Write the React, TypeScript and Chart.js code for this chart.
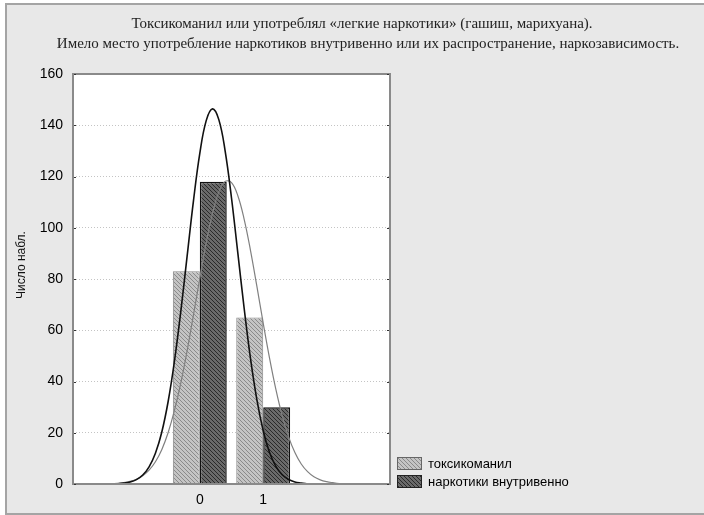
import React, { useEffect, useRef } from "react";
import { Chart, registerables } from "chart.js";

Chart.register(...registerables);

// ---- data ----
const categories = [0, 1];
const toksValues = [83, 65];
const narcValues = [118, 30];

const toksCurveX = [-1.4, -1.3, -1.2, -1.1, -1.0, -0.9, -0.8, -0.7, -0.6, -0.5, -0.4, -0.3, -0.2, -0.1, 0.0, 0.1, 0.2, 0.3, 0.4, 0.5, 0.6, 0.7, 0.8, 0.9, 1.0, 1.1, 1.2, 1.3, 1.4, 1.5, 1.6, 1.7, 1.8, 1.9, 2.0, 2.1, 2.2, 2.3];
const toksCurveY = [0.1, 0.3, 0.5, 1.0, 1.8, 3.2, 5.4, 8.7, 13.4, 20.0, 28.7, 39.4, 52.0, 66.0, 80.3, 94.0, 105.6, 114.0, 118.1, 117.6, 112.5, 103.3, 91.1, 77.2, 62.8, 49.1, 36.9, 26.6, 18.4, 12.3, 7.8, 4.8, 2.8, 1.6, 0.9, 0.5, 0.2, 0.1];

const narcCurveX = [-1.3, -1.2, -1.1, -1.0, -0.9, -0.8, -0.7, -0.6, -0.5, -0.4, -0.3, -0.2, -0.1, 0.0, 0.1, 0.2, 0.3, 0.4, 0.5, 0.6, 0.7, 0.8, 0.9, 1.0, 1.1, 1.2, 1.3, 1.4, 1.5, 1.6, 1.7];
const narcCurveY = [0.1, 0.4, 0.8, 1.7, 3.5, 6.7, 12.0, 20.2, 32.1, 47.9, 67.3, 88.9, 110.5, 129.0, 141.7, 146.4, 142.2, 129.9, 111.6, 90.1, 68.5, 48.9, 32.9, 20.8, 12.3, 6.9, 3.6, 1.8, 0.8, 0.4, 0.1];

const xTickValues = [0, 1];
const yTickValues = [0, 20, 40, 60, 80, 100, 120, 140, 160];

const titleLines = [
  "Токсикоманил или употреблял «легкие наркотики» (гашиш, марихуана).",
  "Имело место употребление наркотиков внутривенно или их распространение, наркозависимость.",
];
const yAxisTitle = "Число набл.";
const seriesLabels = ["токсикоманил", "наркотики внутривенно"];

function makePattern(base: string, line: string): CanvasPattern | string {
  const c = document.createElement("canvas");
  c.width = 4;
  c.height = 4;
  const g = c.getContext("2d");
  if (!g) return base;
  g.fillStyle = base;
  g.fillRect(0, 0, 4, 4);
  g.fillStyle = line;
  for (let i = 0; i < 4; i++) g.fillRect(i, i, 1, 1);
  const p = g.createPattern(c, "repeat");
  return p || base;
}

export default function App() {
  const ref = useRef<HTMLCanvasElement | null>(null);

  useEffect(() => {
    const canvas = ref.current;
    if (!canvas) return;
    const toksFill = makePattern("#c4c4c4", "#8a8a8a");
    const narcFill = makePattern("#6a6a6a", "#2a2a2a");

    const decor = {
      id: "decor",
      beforeDraw(chart: any) {
        const { ctx, chartArea: a } = chart;
        ctx.save();
        ctx.fillStyle = "#ffffff";
        ctx.fillRect(0, 0, chart.width, chart.height);
        ctx.fillStyle = "#e8e8e8";
        ctx.fillRect(7, 5, chart.width, 508);
        ctx.strokeStyle = "#a4a4a4";
        ctx.lineWidth = 2;
        ctx.strokeRect(6, 4, chart.width + 20, 510);
        ctx.fillStyle = "#ffffff";
        ctx.fillRect(a.left, a.top, a.right - a.left, a.bottom - a.top);
        ctx.restore();
      },
      afterDraw(chart: any) {
        const { ctx, chartArea: a } = chart;
        const ys = chart.scales.y;
        ctx.save();
        // plot frame
        ctx.strokeStyle = "#8a8a8a";
        ctx.lineWidth = 2;
        ctx.strokeRect(a.left, a.top, a.right - a.left, a.bottom - a.top);
        // small inner tick marks
        ctx.strokeStyle = "#333";
        ctx.lineWidth = 1;
        yTickValues.forEach((v) => {
          const y = Math.round(ys.getPixelForValue(v)) + 0.5;
          ctx.beginPath();
          ctx.moveTo(a.left + 1, y);
          ctx.lineTo(a.left + 3, y);
          ctx.moveTo(a.right - 3, y);
          ctx.lineTo(a.right - 1, y);
          ctx.stroke();
        });
        // chart title
        ctx.fillStyle = "#222";
        ctx.font = '15px "Liberation Serif"';
        ctx.textAlign = "center";
        ctx.textBaseline = "middle";
        ctx.fillText(titleLines[0], 362, 24);
        ctx.fillText(titleLines[1], 368, 44);
        // y axis title
        ctx.save();
        ctx.translate(22, 265);
        ctx.rotate(-Math.PI / 2);
        ctx.font = '12px "Liberation Sans"';
        ctx.fillStyle = "#111";
        ctx.fillText(yAxisTitle, 0, 0);
        ctx.restore();
        // legend
        const fills = [toksFill, narcFill];
        const borders = ["#666", "#222"];
        seriesLabels.forEach((lab, i) => {
          const x0 = a.right + 7;
          const y0 = a.bottom - 27 + i * 18;
          ctx.fillStyle = fills[i] as any;
          ctx.fillRect(x0, y0, 25, 13);
          ctx.strokeStyle = borders[i];
          ctx.lineWidth = 1;
          ctx.strokeRect(x0 + 0.5, y0 + 0.5, 24, 12);
          ctx.fillStyle = "#000";
          ctx.font = '13px "Liberation Sans"';
          ctx.textAlign = "left";
          ctx.textBaseline = "middle";
          ctx.fillText(lab, x0 + 31, y0 + 7);
        });
        ctx.restore();
      },
    };

    const chart = new Chart(canvas, {
      type: "bar",
      data: {
        datasets: [
          {
            type: "bar",
            label: seriesLabels[0],
            data: categories.map((c, i) => ({ x: c, y: toksValues[i] })),
            backgroundColor: toksFill as any,
            borderColor: "#8a8a8a",
            borderWidth: 1,
            categoryPercentage: 0.85,
            barPercentage: 1.0,
            order: 2,
          },
          {
            type: "bar",
            label: seriesLabels[1],
            data: categories.map((c, i) => ({ x: c, y: narcValues[i] })),
            backgroundColor: narcFill as any,
            borderColor: "#111111",
            borderWidth: 1.5,
            categoryPercentage: 0.85,
            barPercentage: 1.0,
            order: 2,
          },
          {
            type: "line",
            label: seriesLabels[0] + " (норм.)",
            data: toksCurveX.map((x, i) => ({ x, y: toksCurveY[i] })),
            borderColor: "#808080",
            borderWidth: 1.2,
            pointRadius: 0,
            tension: 0.4,
            fill: false,
            order: 1,
          },
          {
            type: "line",
            label: seriesLabels[1] + " (норм.)",
            data: narcCurveX.map((x, i) => ({ x, y: narcCurveY[i] })),
            borderColor: "#111111",
            borderWidth: 1.6,
            pointRadius: 0,
            tension: 0.4,
            fill: false,
            order: 0,
          },
        ] as any,
      },
      options: {
        animation: false,
        responsive: false,
        devicePixelRatio: 1,
        layout: { padding: { top: 74, right: 314, bottom: 0, left: 0 } },
        plugins: {
          legend: { display: false },
          title: { display: false },
          tooltip: { enabled: false },
        },
        scales: {
          x: {
            type: "linear",
            min: -2,
            max: 3,
            offset: false,
            grid: { display: false, drawTicks: false },
            border: { display: false },
            afterBuildTicks: (s: any) => {
              s.ticks = xTickValues.map((v) => ({ value: v }));
            },
            afterFit: (s: any) => {
              s.height = 31;
            },
            ticks: {
              padding: 8,
              color: "#000",
              font: { family: "Liberation Sans", size: 14 },
              maxRotation: 0,
              autoSkip: false,
              callback: (v: any) => String(v),
            },
          },
          y: {
            type: "linear",
            min: 0,
            max: 160,
            afterBuildTicks: (s: any) => {
              s.ticks = yTickValues.map((v) => ({ value: v }));
            },
            afterFit: (s: any) => {
              s.width = 73;
            },
            grid: { color: "#c4c4c4", lineWidth: 1, drawTicks: false },
            border: { display: false, dash: [1, 2] },
            ticks: {
              padding: 10,
              color: "#000",
              font: { family: "Liberation Sans", size: 14 },
              callback: (v: any) => String(v),
            },
          },
        },
      } as any,
      plugins: [decor],
    });

    return () => chart.destroy();
  }, []);

  return (
    <div style={{ position: "fixed", left: 0, top: 0, width: 704, height: 515 }}>
      <canvas ref={ref} width={704} height={515} style={{ width: 704, height: 515, display: "block" }} />
    </div>
  );
}
